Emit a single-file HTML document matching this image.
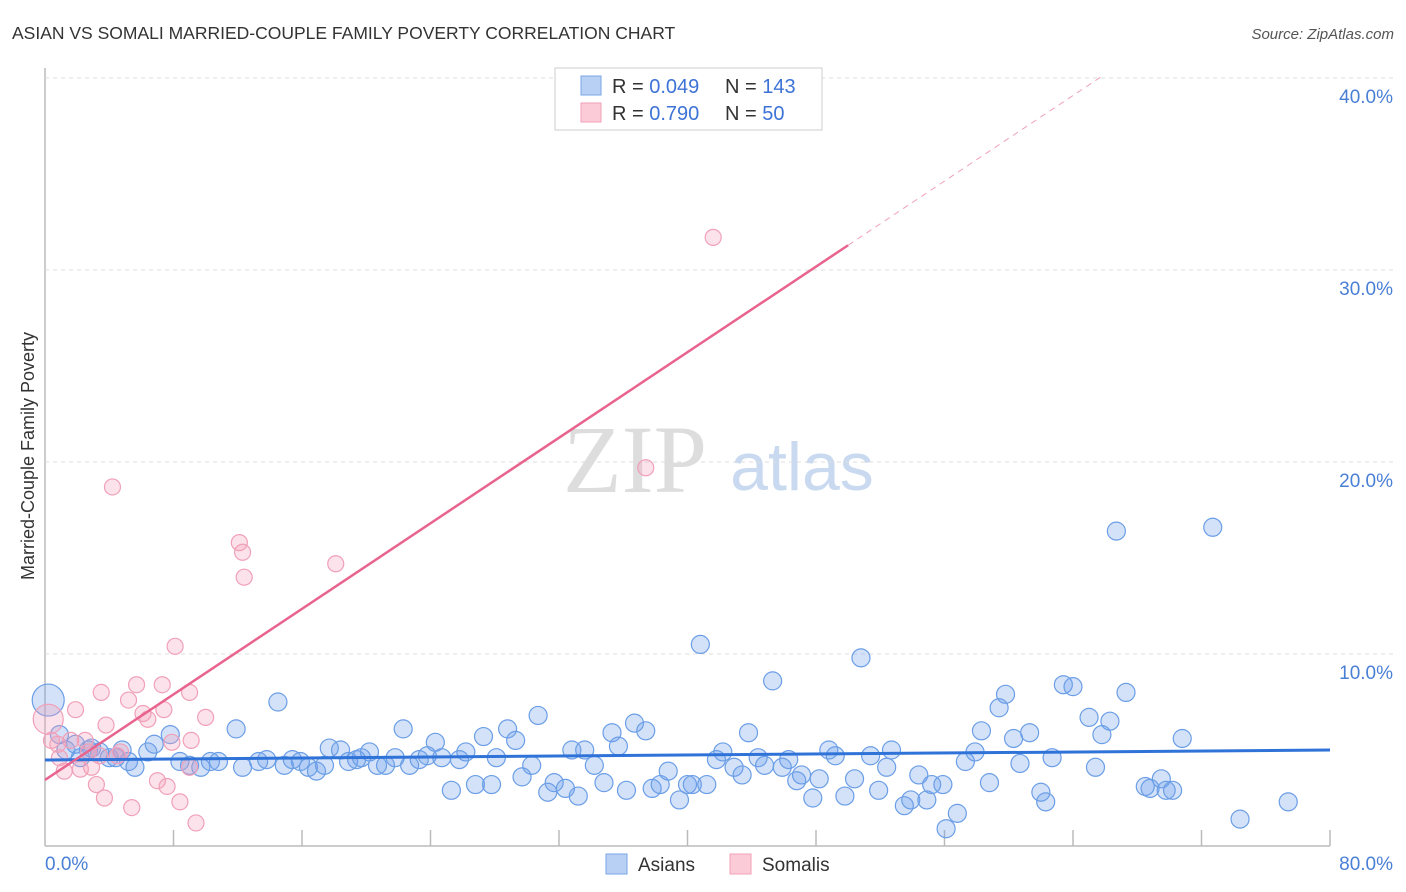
<!DOCTYPE html>
<html><head><meta charset="utf-8"><style>
body{margin:0;background:#fff;font-family:"Liberation Sans",sans-serif;}
#wrap{position:relative;width:1406px;height:892px;overflow:hidden}
</style></head><body>
<div id="wrap">
<svg id="svg" width="1406" height="892" xmlns="http://www.w3.org/2000/svg">
<text x="12" y="39" font-size="17.5" fill="#333">ASIAN VS SOMALI MARRIED-COUPLE FAMILY POVERTY CORRELATION CHART</text>
<text x="1394" y="39" font-size="15" fill="#555" font-style="italic" text-anchor="end">Source: ZipAtlas.com</text>
<text x="0" y="0" transform="translate(34,456) rotate(-90)" font-size="18" fill="#333" text-anchor="middle">Married-Couple Family Poverty</text>
<text x="635" y="492" font-size="96" fill="#ddd" font-family="Liberation Serif,serif" text-anchor="middle">ZIP</text>
<text x="802" y="490" font-size="68" fill="#c9d9f0" text-anchor="middle">atlas</text>
<g id="grid"></g><g id="pts"></g><g id="lines"></g>
<g>
<rect x="555" y="68" width="267" height="62" fill="#fff" stroke="#ccc"/>
<rect x="581" y="76" width="20" height="19" fill="#b8d0f4" stroke="#7aa6e6"/>
<rect x="581" y="103" width="20" height="19" fill="#fbcbd8" stroke="#f0a0b8"/>
<text x="612" y="93" font-size="20" fill="#333">R = <tspan fill="#3d73d6">0.049</tspan></text>
<text x="725" y="93" font-size="20" fill="#333">N = <tspan fill="#3d73d6">143</tspan></text>
<text x="612" y="120" font-size="20" fill="#333">R = <tspan fill="#3d73d6">0.790</tspan></text>
<text x="725" y="120" font-size="20" fill="#333">N = <tspan fill="#3d73d6"> 50</tspan></text>
</g>
<g>
<rect x="606" y="854" width="21" height="20" fill="#b8d0f4" stroke="#7aa6e6"/>
<text x="638" y="871" font-size="19" fill="#333">Asians</text>
<rect x="730" y="854" width="21" height="20" fill="#fbcbd8" stroke="#f0a0b8"/>
<text x="762" y="871" font-size="19" fill="#333">Somalis</text>
</g>
</svg>
</div>
<script>
const xTickVals=[0,8,16,24,32,40,48,56,64,72,80];
const yTickVals=[10,20,30,40];
const xEndLabels=["0.0%","80.0%"];
const asianX=[0.2,0.9,1.9,2.7,3.4,4.0,4.8,5.6,6.4,6.8,7.8,8.4,9.0,9.7,10.3,10.8,11.9,12.3,13.3,13.8,14.5,14.9,15.4,15.9,16.4,16.9,17.4,17.7,18.4,18.9,19.4,19.7,20.2,20.7,21.2,21.8,22.3,22.7,23.3,23.8,24.3,24.7,25.3,25.8,26.2,26.8,27.3,27.8,28.1,28.8,29.3,29.7,30.3,30.7,31.3,31.7,32.4,32.8,33.2,33.6,34.2,34.8,35.3,35.7,36.2,36.7,37.4,37.8,38.3,38.8,39.5,40.0,40.3,40.8,41.2,41.8,42.2,42.9,43.4,43.8,44.4,44.8,45.3,45.9,46.3,46.8,47.1,47.8,48.2,48.8,49.2,49.8,50.4,50.8,51.4,51.9,52.4,52.7,53.5,53.9,54.4,54.9,55.2,55.9,56.1,56.8,57.3,57.9,58.3,58.8,59.4,59.8,60.3,60.7,61.3,62.0,62.3,62.7,63.4,64.0,65.0,65.4,65.8,66.3,66.7,67.3,68.5,68.8,69.5,69.8,70.2,70.8,72.7,74.4,77.4,1.3,2.2,2.9,4.4,5.2];
const asianY=[7.6,5.8,5.3,5.0,4.9,4.6,5.0,4.1,4.9,5.3,5.8,4.4,4.2,4.1,4.4,4.4,6.1,4.1,4.4,4.5,7.5,4.2,4.5,4.4,4.1,3.9,4.2,5.1,5.0,4.4,4.5,4.6,4.9,4.2,4.2,4.6,6.1,4.2,4.5,4.7,5.4,4.6,2.9,4.5,4.9,3.2,5.7,3.2,4.6,6.1,5.5,3.6,4.2,6.8,2.8,3.3,3.0,5.0,2.6,5.0,4.2,3.3,5.9,5.2,2.9,6.4,6.0,3.0,3.2,3.9,2.4,3.2,3.2,10.5,3.2,4.5,4.9,4.1,3.7,5.9,4.6,4.2,8.6,4.1,4.5,3.4,3.7,2.5,3.5,5.0,4.7,2.6,3.5,9.8,4.7,2.9,4.1,5.0,2.1,2.4,3.7,2.4,3.2,3.2,0.9,1.7,4.4,4.9,6.0,3.3,7.2,7.9,5.6,4.3,5.9,2.8,2.3,4.6,8.4,8.3,6.7,4.1,5.8,6.5,16.4,8.0,3.1,3.0,3.5,2.9,2.9,5.6,16.6,1.4,2.3,5.0,4.6,5.1,4.6,4.4];
const somaliX=[0.2,0.4,0.8,1.2,1.6,1.9,2.2,2.5,2.9,3.2,3.5,3.7,3.8,4.2,4.5,5.2,5.4,5.7,6.1,6.4,7.0,7.3,7.4,7.6,7.9,8.1,8.4,9.0,9.1,9.4,10.0,12.1,12.3,12.4,18.1,37.4,41.6,0.9,2.7,3.4,4.7,9.0];
const somaliY=[6.6,5.5,5.3,3.9,5.5,7.1,4.0,5.5,4.1,3.2,8.0,2.5,6.3,18.7,4.7,7.6,2.0,8.4,6.9,6.6,3.4,8.4,7.1,3.1,5.4,10.4,2.3,8.0,5.5,1.2,6.7,15.8,15.3,14.0,14.7,19.7,31.7,4.6,4.9,4.7,4.9,4.1];
const asianTrend=[4.48,5.0];
const somaliTrend=[3.44,0.557];
const NS="http://www.w3.org/2000/svg";
const X=v=>45+v*(1285/80), Y=v=>846-v*19.2;
function mk(t,a,p){const e=document.createElementNS(NS,t);for(const k in a)e.setAttribute(k,a[k]);p.appendChild(e);return e;}
const grid=document.getElementById('grid'),pts=document.getElementById('pts'),lines=document.getElementById('lines');
let ax=mk('line',{x1:45,y1:68,x2:45,y2:846,stroke:'#bbb','stroke-width':1.5},grid);


let bx=mk('line',{x1:45,y1:846,x2:1330,y2:846,stroke:'#bbb','stroke-width':1.5},grid);


mk('line',{x1:45,y1:78,x2:1393,y2:78,stroke:'#ddd','stroke-dasharray':'4,4'},grid);
yTickVals.forEach(v=>{
 const g=mk('line',{x1:45,y1:Y(v),x2:1393,y2:Y(v),stroke:'#ddd','stroke-dasharray':'4,4'},grid);
 
 
 const t=mk('text',{x:1393,y:Y(v)+25,'font-size':19,fill:'#4a7fd6','text-anchor':'end'},grid);t.textContent=v.toFixed(1)+'%';
 
 
});
xTickVals.forEach((v,i)=>{if(i==0)return;
 const t=mk('line',{x1:X(v),y1:830,x2:X(v),y2:846,stroke:'#bbb','stroke-width':1.5},grid);
 
 
});
let l0=mk('text',{x:45,y:870,'font-size':19,fill:'#4a7fd6'},grid);l0.textContent=xEndLabels[0];


let l1=mk('text',{x:1393,y:870,'font-size':19,fill:'#4a7fd6','text-anchor':'end'},grid);l1.textContent=xEndLabels[1];


asianX.forEach((x,i)=>{
 const c=mk('circle',{cx:X(x),cy:Y(asianY[i]),r:i==0?16:9,fill:'rgba(110,160,235,0.3)',stroke:'#6b9ee6','stroke-width':1.2},pts);
 
 
});
somaliX.forEach((x,i)=>{
 const c=mk('circle',{cx:X(x),cy:Y(somaliY[i]),r:i==0?15:8,fill:'rgba(245,160,185,0.3)',stroke:'#f0a0b8','stroke-width':1.2},pts);
 
 
});
let bl=mk('line',{x1:X(0),y1:Y(asianTrend[0]),x2:X(80),y2:Y(asianTrend[1]),stroke:'#2f73d8','stroke-width':3},lines);


const sy=x=>somaliTrend[0]+somaliTrend[1]*x;
let sl=mk('line',{x1:X(0),y1:Y(sy(0)),x2:X(50),y2:Y(sy(50)),stroke:'#e8648e','stroke-width':2.5},lines);


let sd=mk('line',{x1:X(50),y1:Y(sy(50)),x2:X(65.7),y2:Y(sy(65.7)),stroke:'#f0a0b8','stroke-width':1,'stroke-dasharray':'6,5'},lines);


</script>
</body></html>
